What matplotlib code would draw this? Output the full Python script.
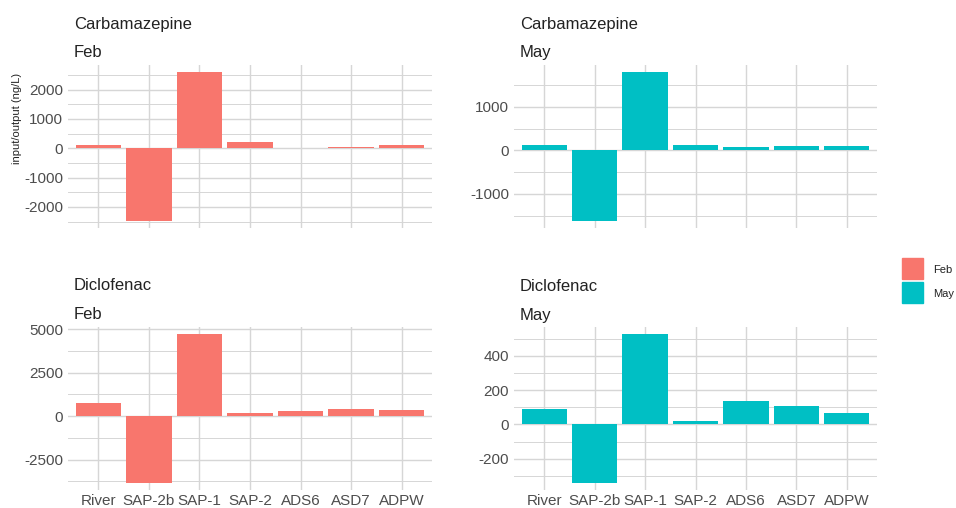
import numpy as np
import matplotlib.pyplot as plt
from matplotlib.patches import Rectangle

plt.rcParams['font.family'] = ['Liberation Sans', 'DejaVu Sans']

sites = ["River", "SAP-2b", "SAP-1", "SAP-2", "ADS6", "ASD7", "ADPW"]

carba_feb = [95, -2465, 2585, 225, 0, 55, 125]
carba_may = [130, -1615, 1790, 130, 85, 105, 105]
diclo_feb = [770, -3820, 4690, 175, 290, 425, 365]
diclo_may = [92, -339, 525, 19, 134, 105, 68]

FEB = "#F8766D"
MAY = "#00BFC4"
GRID = "#d6d6d6"
TICK = "#4d4d4d"

W, H = 956, 508


def px_axes(fig, x0, y0, x1, y1):
    return fig.add_axes([x0 / W, 1 - y1 / H, (x1 - x0) / W, (y1 - y0) / H])


def panel(ax, values, color, majors, minors, show_x):
    x = np.arange(len(sites))
    ax.bar(x, values, width=0.9, color=color, zorder=2)
    lo, hi = min(min(values), 0), max(max(values), 0)
    pad = (hi - lo) * 0.05
    ax.set_ylim(lo - pad, hi + pad)
    ax.set_xlim(-0.6, len(sites) - 0.4)
    ax.set_yticks(majors)
    ax.set_yticklabels([str(v) for v in majors])
    ax.set_yticks(minors, minor=True)
    ax.set_xticks(x)
    if show_x:
        ax.set_xticklabels(sites)
    else:
        ax.set_xticklabels([])
    for s in ax.spines.values():
        s.set_visible(False)
    ax.tick_params(which="both", length=0, labelsize=11, colors=TICK)
    ax.tick_params(axis="y", pad=3.5)
    ax.tick_params(axis="x", pad=3)
    ax.grid(True, which="major", color=GRID, linewidth=1.0, zorder=0)
    ax.grid(True, which="minor", axis="y", color=GRID, linewidth=0.7, zorder=0)
    ax.set_axisbelow(True)


fig = plt.figure(figsize=(W / 100, H / 100), dpi=100)

ax1 = px_axes(fig, 68, 65, 432, 228)
panel(ax1, carba_feb, FEB, [-2000, -1000, 0, 1000, 2000],
      [-2500, -1500, -500, 500, 1500, 2500], False)

ax2 = px_axes(fig, 514, 65, 877, 228)
panel(ax2, carba_may, MAY, [-1000, 0, 1000], [-1500, -500, 500, 1500], False)

ax3 = px_axes(fig, 68, 327, 432, 490)
panel(ax3, diclo_feb, FEB, [-2500, 0, 2500, 5000],
      [-3750, -1250, 1250, 3750], True)

ax4 = px_axes(fig, 514, 327, 877, 490)
panel(ax4, diclo_may, MAY, [-200, 0, 200, 400],
      [-300, -100, 100, 300, 500], True)

fig.text(17 / W, 1 - 118 / H, "input/output (ng/L)", fontsize=8,
         color="#222222", rotation=90, ha="center", va="center")

# panel titles
titles = [
    (74, 29, "Carbamazepine"), (74, 57, "Feb"),
    (520, 29, "Carbamazepine"), (520, 57, "May"),
    (74, 290, "Diclofenac"), (74, 319, "Feb"),
    (520, 291, "Diclofenac"), (520, 320, "May"),
]
for tx, ty, s in titles:
    fig.text(tx / W, 1 - ty / H, s, fontsize=12, color="#222222",
             ha="left", va="baseline")

# legend
for i, (lab, col) in enumerate([("Feb", FEB), ("May", MAY)]):
    top = 258 + i * 24
    fig.add_artist(Rectangle((902 / W, 1 - (top + 21) / H), 21 / W, 21 / H,
                             transform=fig.transFigure, color=col))
    fig.text(933 / W, 1 - (top + 12) / H, lab, fontsize=8, color="#222222",
             ha="left", va="center")

fig.savefig("out.png", dpi=100)
